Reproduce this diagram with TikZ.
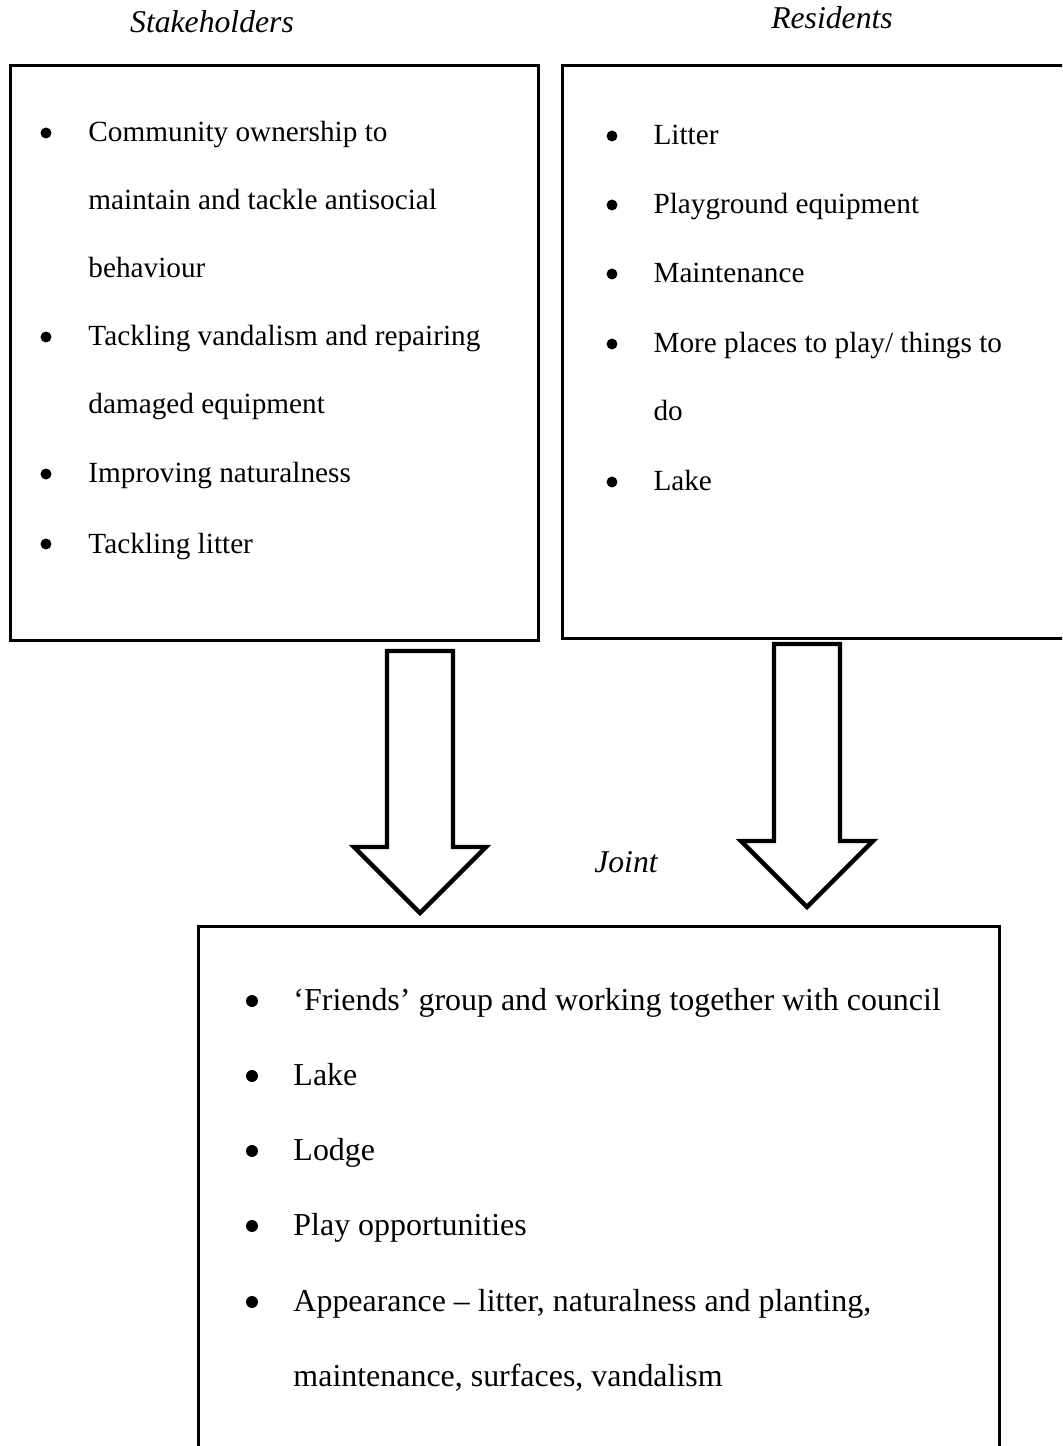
\documentclass[tikz,border=0pt]{standalone}
\usepackage{fontspec}
\setmainfont{Liberation Serif}
\usetikzlibrary{positioning}

% block arrow pointing down: centre x, top y, wing y, tip y
\newcommand{\blkarrow}[4]{%
  \draw[bigarrow] (#1-33,#2) -- (#1+33,#2) -- (#1+33,#3) -- (#1+66,#3)
    -- (#1,#4) -- (#1-66,#3) -- (#1-33,#3) -- cycle;}

\begin{document}
\begin{tikzpicture}[x=0.41026pt, y=-0.41026pt]
	\tikzstyle{box} = [draw, line width=1.4pt, inner sep=0pt, anchor=north west]
	\tikzstyle{bigarrow} = [draw, line width=1.8pt, line join=miter, fill=white]
	\tikzstyle{item} = [anchor=base west, inner sep=0pt, font=\fontsize{12}{14}\selectfont]
	\tikzstyle{jitem} = [anchor=base west, inner sep=0pt, font=\fontsize{13.1}{15}\selectfont]
	\tikzstyle{bul} = [circle, fill, inner sep=0pt, minimum size=4.5pt]
	\tikzstyle{head} = [anchor=base, inner sep=0pt, font=\fontsize{13}{15}\selectfont\itshape]
	\clip (0,0) rectangle (1062,1446);

	% headings
	\node[head] (sh) at (212,33) {Stakeholders};
	\node[head] (rh) at (832,29) {Residents};
	\node[head] (jh) at (626,872) {Joint};

	% boxes
	\node[box, minimum width=528*0.41026pt, minimum height=575*0.41026pt] (stake) at (9,64) {};
	\node[box, minimum width=540*0.41026pt, minimum height=573*0.41026pt] (resid) at (561,64) {};
	\node[box, minimum width=801*0.41026pt, minimum height=560*0.41026pt] (joint) at (197,925) {};

	% stakeholders
	\node[bul] (sb1) at (46,133) {};
	\node[item] (s1) at (88,142) {Community ownership to};
	\node[item] (s1b) at (88,210) {maintain and tackle antisocial};
	\node[item] (s1c) at (88,278) {behaviour};
	\node[bul] (sb2) at (46,337) {};
	\node[item] (s2) at (88,346) {Tackling vandalism and repairing};
	\node[item] (s2b) at (88,414) {damaged equipment};
	\node[bul] (sb3) at (46,474) {};
	\node[item] (s3) at (88,483) {Improving naturalness};
	\node[bul] (sb4) at (46,544) {};
	\node[item] (s4) at (88,553) {Tackling litter};

	% residents
	\node[bul] (rb1) at (612,136) {};
	\node[item] (r1) at (653,145) {Litter};
	\node[bul] (rb2) at (612,205) {};
	\node[item] (r2) at (653,214) {Playground equipment};
	\node[bul] (rb3) at (612,274) {};
	\node[item] (r3) at (653,283) {Maintenance};
	\node[bul] (rb4) at (612,344) {};
	\node[item] (r4) at (653,353) {More places to play/ things to};
	\node[item] (r4b) at (653,421) {do};
	\node[bul] (rb5) at (612,482) {};
	\node[item] (r5) at (653,491) {Lake};

	% joint
	\node[bul, minimum size=4.9pt] (jb1) at (252,1001) {};
	\node[jitem] (j1) at (293,1010) {‘Friends’ group and working together with council};
	\node[bul, minimum size=4.9pt] (jb2) at (252,1076) {};
	\node[jitem] (j2) at (293,1085) {Lake};
	\node[bul, minimum size=4.9pt] (jb3) at (252,1151) {};
	\node[jitem] (j3) at (293,1160) {Lodge};
	\node[bul, minimum size=4.9pt] (jb4) at (252,1226) {};
	\node[jitem] (j4) at (293,1235) {Play opportunities};
	\node[bul, minimum size=4.9pt] (jb5) at (252,1302) {};
	\node[jitem] (j5) at (293,1311) {Appearance – litter, naturalness and planting,};
	\node[jitem] (j5b) at (293,1386) {maintenance, surfaces, vandalism};

	% arrows
	\blkarrow{420}{651}{847}{913}
	\blkarrow{807}{644}{841}{907}
\end{tikzpicture}
\end{document}
